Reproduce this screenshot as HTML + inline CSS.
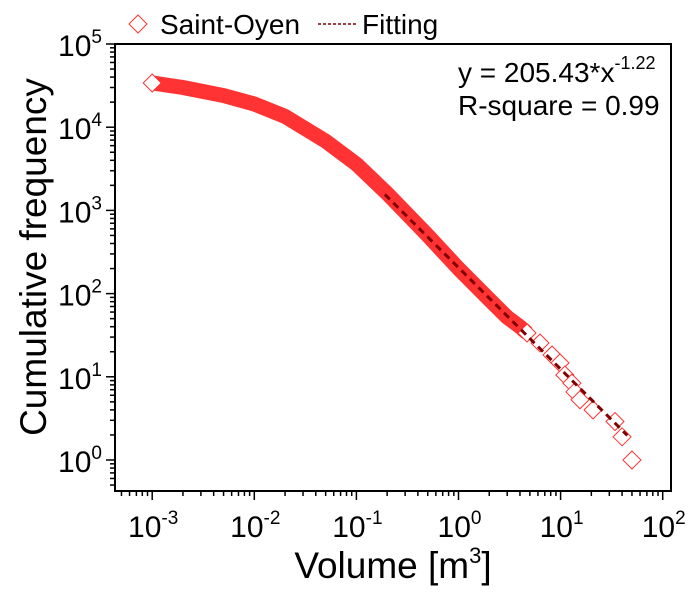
<!DOCTYPE html>
<html><head><meta charset="utf-8"><style>
body{margin:0;background:#fff}
svg{display:block;font-family:"Liberation Sans",Arial,sans-serif}
</style></head><body>
<svg id="chart" width="700" height="599" viewBox="0 0 700 599" xmlns="http://www.w3.org/2000/svg"></svg>
<script>
// data
const bandX = [0.001,0.002,0.005,0.01,0.02,0.05,0.1,0.2,0.5,1,2,3,4,4.7];
const bandY = [34000,30000,24000,19000,13500,6800,3600,1600,500,200,85,52,40,33.6];
const sparseX = [4.69,6.28,8.24,9.86,11.0,12.9,13.8,15.5,20.8,34.1,40,50];
const sparseY = [33.6,25.5,18.3,14.7,10.5,8.4,6.6,5.3,4.0,2.9,1.9,1];
const fitRange = [0.19,45];
const fitA = 205.43, fitB = -1.22;
const xTickExp = [-3,-2,-1,0,1,2];
const yTickExp = [0,1,2,3,4,5];

const NS="http://www.w3.org/2000/svg";
const svg=document.getElementById('chart');
const L=115,R=671,T=44,B=491;
const xs=v=>152.2+(Math.log10(v)+3)*102.1;
const ys=v=>460-Math.log10(v)*83.2;
function mk(tag,attrs,parent){const e=document.createElementNS(NS,tag);for(const k in attrs)e.setAttribute(k,attrs[k]);(parent||svg).appendChild(e);return e;}

// ticks
const ticks=mk('g',{stroke:'#000','stroke-width':1.5});


for(let e=-4;e<=2;e++){for(let m=1;m<10;m++){const v=m*Math.pow(10,e);const x=xs(v);if(x<L||x>R)continue;
 const len=m===1?9:5;mk('line',{x1:x,x2:x,y1:B,y2:B+len},ticks);}}
for(let e=-1;e<=5;e++){for(let m=1;m<10;m++){const v=m*Math.pow(10,e);const y=ys(v);if(y<T-0.5||y>B)continue;
 const len=m===1?9:5;mk('line',{x1:L,x2:L-len,y1:y,y2:y},ticks);}}

// tick labels
xTickExp.forEach(e=>{const t=mk('text',{x:xs(Math.pow(10,e))+1,y:537,'font-size':30,'text-anchor':'middle'});
 
 
 t.innerHTML='10<tspan dy="-13" font-size="19">'+e+'</tspan>';});
yTickExp.forEach(e=>{const t=mk('text',{x:102,y:ys(Math.pow(10,e))+12,'font-size':30,'text-anchor':'end'});
 
 
 t.innerHTML='10<tspan dy="-13" font-size="19">'+e+'</tspan>';});

// band (dense points)
const band=mk('polyline',{points:bandX.map((v,i)=>xs(v)+','+ys(bandY[i])).join(' '),fill:'none',stroke:'#ff3333','stroke-width':15,'stroke-linejoin':'round','stroke-linecap':'butt'});



function diamond(x,y,s){return mk('path',{d:`M${x} ${y-s}L${x+s} ${y}L${x} ${y+s}L${x-s} ${y}Z`,fill:'#fff',stroke:'#ff3333','stroke-width':1});}
sparseX.forEach((v,i)=>{const d=diamond(xs(v),ys(sparseY[i]),9);
 
 });
const d0=diamond(xs(bandX[0]),ys(bandY[0]),9);



// fit
const fp=[];for(let i=0;i<=40;i++){const v=fitRange[0]*Math.pow(fitRange[1]/fitRange[0],i/40);fp.push(xs(v)+','+ys(fitA*Math.pow(v,fitB)));}
const fit=mk('polyline',{points:fp.join(' '),fill:'none',stroke:'#800000','stroke-width':3,'stroke-dasharray':'7 5'});



// frame
const fr=mk('rect',{x:L,y:T,width:R-L,height:B-T,fill:'none',stroke:'#000','stroke-width':2});


</script>
<svg style="position:absolute;left:0;top:0" width="700" height="599">
<g>
<path d="M138 15L147 24L138 33L129 24Z" fill="#fff" stroke="#ff3333"/>
<text x="160" y="34" font-size="28" font-family="Liberation Sans, sans-serif">Saint-Oyen</text>
<line x1="318" y1="24" x2="356" y2="24" stroke="#800000" stroke-width="1.5" stroke-dasharray="3 2"/>
<text x="362" y="34" font-size="28" font-family="Liberation Sans, sans-serif">Fitting</text>
</g>
<text x="458" y="82" font-size="28" font-family="Liberation Sans, sans-serif">y = 205.43*x<tspan dy="-13" font-size="18">-1.22</tspan></text>
<text x="458" y="115" font-size="28" font-family="Liberation Sans, sans-serif">R-square = 0.99</text>
<text transform="translate(46,257) rotate(-90)" text-anchor="middle" font-size="37" font-family="Liberation Sans, sans-serif">Cumulative frequency</text>
<text x="393" y="578" text-anchor="middle" font-size="37" font-family="Liberation Sans, sans-serif">Volume [m<tspan dy="-15" font-size="22">3</tspan><tspan dy="15">]</tspan></text>
</svg>
</body></html>
